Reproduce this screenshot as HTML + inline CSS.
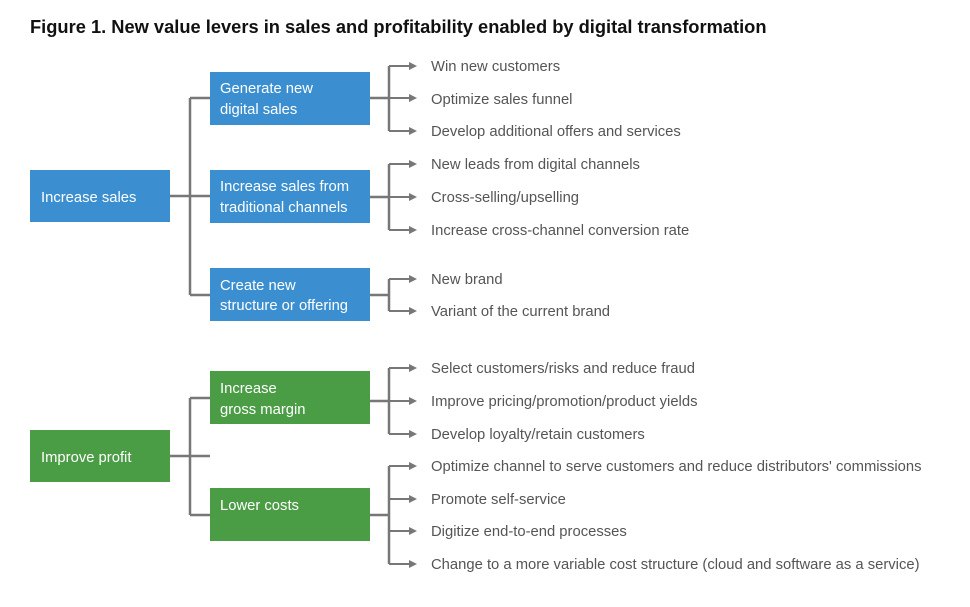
<!DOCTYPE html>
<html><head><meta charset="utf-8"><style>
body{margin:0;background:#fff;width:970px;height:607px;overflow:hidden}
svg{display:block;font-family:"Liberation Sans",sans-serif}
.t{font-size:14.8px;fill:#555}
.b{font-size:14.8px;fill:#fff}
</style></head><body>
<svg width="970" height="607" viewBox="0 0 970 607">
<text x="30" y="33" font-size="18.3" font-weight="bold" fill="#111">Figure 1. New value levers in sales and profitability enabled by digital transformation</text>
<g stroke="#777" stroke-width="2.5" fill="none">
<path d="M170 196H210M190 98V295M190 98H210M190 295H210"/>
<path d="M370 98H389M389 66V131M370 197H389M389 164V230M370 295H389M389 279V311"/>
<path d="M170 456H210M190 398V515M190 398H210M190 515H210"/>
<path d="M370 401H389M389 368V434M370 515H389M389 466V564"/>
</g>
<g stroke="#777" stroke-width="2">
<line x1="389" y1="66" x2="410" y2="66"/><line x1="389" y1="98" x2="410" y2="98"/><line x1="389" y1="131" x2="410" y2="131"/>
<line x1="389" y1="164" x2="410" y2="164"/><line x1="389" y1="197" x2="410" y2="197"/><line x1="389" y1="230" x2="410" y2="230"/>
<line x1="389" y1="279" x2="410" y2="279"/><line x1="389" y1="311" x2="410" y2="311"/>
<line x1="389" y1="368" x2="410" y2="368"/><line x1="389" y1="401" x2="410" y2="401"/><line x1="389" y1="434" x2="410" y2="434"/>
<line x1="389" y1="466" x2="410" y2="466"/><line x1="389" y1="499" x2="410" y2="499"/><line x1="389" y1="531" x2="410" y2="531"/><line x1="389" y1="564" x2="410" y2="564"/>
</g>
<g fill="#777">
<path d="M409 62L417 66L409 70z"/><path d="M409 94L417 98L409 102z"/><path d="M409 127L417 131L409 135z"/>
<path d="M409 160L417 164L409 168z"/><path d="M409 193L417 197L409 201z"/><path d="M409 226L417 230L409 234z"/>
<path d="M409 275L417 279L409 283z"/><path d="M409 307L417 311L409 315z"/>
<path d="M409 364L417 368L409 372z"/><path d="M409 397L417 401L409 405z"/><path d="M409 430L417 434L409 438z"/>
<path d="M409 462L417 466L409 470z"/><path d="M409 495L417 499L409 503z"/><path d="M409 527L417 531L409 535z"/><path d="M409 560L417 564L409 568z"/>
</g>
<g fill="#3b8fd0">
<rect x="30" y="170" width="140" height="52"/>
<rect x="210" y="72" width="160" height="53"/>
<rect x="210" y="170" width="160" height="53"/>
<rect x="210" y="268" width="160" height="53"/>
</g>
<g fill="#4a9d45">
<rect x="30" y="430" width="140" height="52"/>
<rect x="210" y="371" width="160" height="53"/>
<rect x="210" y="488" width="160" height="53"/>
</g>
<g class="b">
<text x="41" y="202">Increase sales</text>
<text x="220" y="93">Generate new</text><text x="220" y="114">digital sales</text>
<text x="220" y="191">Increase sales from</text><text x="220" y="212">traditional channels</text>
<text x="220" y="290">Create new</text><text x="220" y="310">structure or offering</text>
<text x="41" y="462">Improve profit</text>
<text x="220" y="393">Increase</text><text x="220" y="414">gross margin</text>
<text x="220" y="510">Lower costs</text>
</g>
<g class="t">
<text x="431" y="71">Win new customers</text>
<text x="431" y="104">Optimize sales funnel</text>
<text x="431" y="136">Develop additional offers and services</text>
<text x="431" y="169">New leads from digital channels</text>
<text x="431" y="202">Cross-selling/upselling</text>
<text x="431" y="235">Increase cross-channel conversion rate</text>
<text x="431" y="284">New brand</text>
<text x="431" y="316">Variant of the current brand</text>
<text x="431" y="373">Select customers/risks and reduce fraud</text>
<text x="431" y="406">Improve pricing/promotion/product yields</text>
<text x="431" y="439">Develop loyalty/retain customers</text>
<text x="431" y="471">Optimize channel to serve customers and reduce distributors' commissions</text>
<text x="431" y="504">Promote self-service</text>
<text x="431" y="536">Digitize end-to-end processes</text>
<text x="431" y="569">Change to a more variable cost structure (cloud and software as a service)</text>
</g>
</svg>
</body></html>
